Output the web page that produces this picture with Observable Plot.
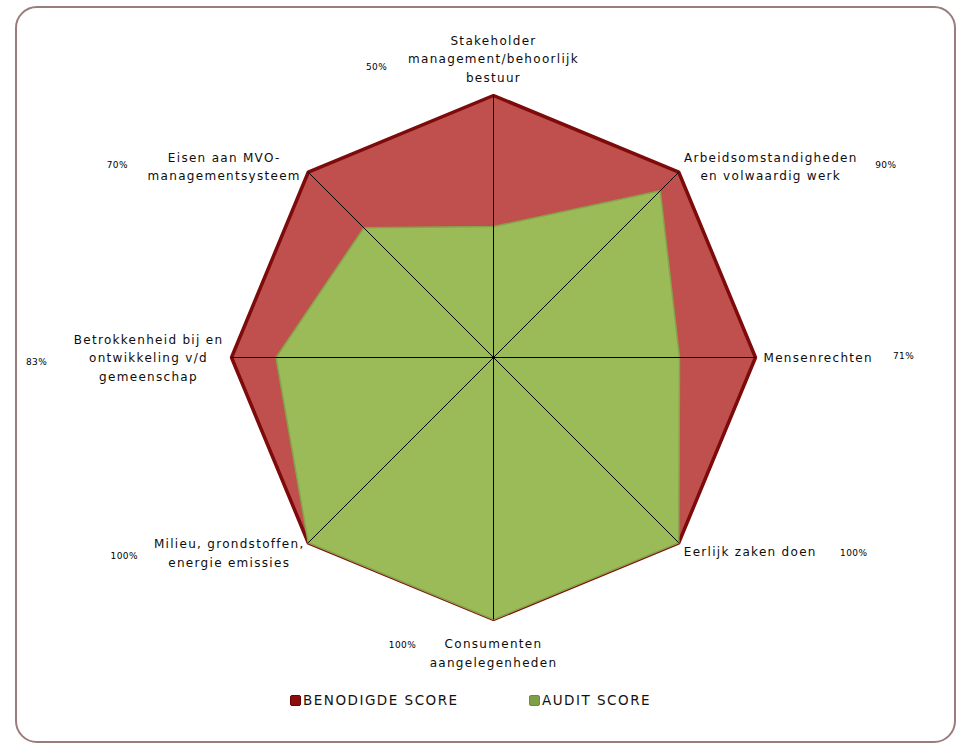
<!DOCTYPE html>
<html>
<head>
<meta charset="utf-8">
<script src="https://cdn.jsdelivr.net/npm/d3@7"></script>
<script src="https://cdn.jsdelivr.net/npm/@observablehq/plot@0.6"></script>
<style>
  body { margin: 0; background: #fff; }
  #wrap { position: relative; width: 961px; height: 745px; overflow: hidden; font-family: "DejaVu Sans", sans-serif; background: #fff; }
  #border { position: absolute; left: 15px; top: 6px; width: 941px; height: 737px; border: 2px solid #9a7c7c; border-radius: 22px; box-sizing: border-box; }
  #chart { position: absolute; left: 0; top: 0; }
  #legend { position: absolute; left: 0; top: 688px; width: 961px; height: 24px; }
  .item { position: absolute; top: 0; height: 24px; display: flex; align-items: center; font-size: 13.5px; letter-spacing: 1.5px; color: #111; }
  .sw { width: 11px; height: 11px; border-radius: 2px; margin-right: 2px; box-sizing: border-box; }
  svg text.cat { letter-spacing: 1.3px; }
  svg text.pct { letter-spacing: 0.4px; }
</style>
</head>
<body>
<div id="wrap">
  <div id="border"></div>
  <div id="chart"></div>
  <div id="legend"></div>
</div>
<script>
// ---- data ----
const categories = [
  "Stakeholder\nmanagement/behoorlijk\nbestuur",
  "Arbeidsomstandigheden\nen volwaardig werk",
  "Mensenrechten",
  "Eerlijk zaken doen",
  "Consumenten\naangelegenheden",
  "Milieu, grondstoffen,\nenergie emissies",
  "Betrokkenheid bij en\nontwikkeling v/d\ngemeenschap",
  "Eisen aan MVO-\nmanagementsysteem"
];
const requiredScore = [100, 100, 100, 100, 100, 100, 100, 100];
const auditScore = [50, 90, 71, 100, 100, 100, 83, 70];
const seriesNames = ["BENODIGDE SCORE", "AUDIT SCORE"];
const seriesColors = ["#C0504D", "#9BBB59"];

// ---- build polar points ----
const n = categories.length;
const toPoint = (v, i) => {
  const a = (i / n) * 2 * Math.PI;
  return { i, x: Math.sin(a) * v / 100, y: Math.cos(a) * v / 100 };
};
const redPts = requiredScore.map(toPoint);
const greenPts = auditScore.map(toPoint);

// label offsets (pixels) from the outer vertex of each axis
const catStyle = [
  { dx: 0, dy: -38, anchor: "middle" },
  { dx: 92, dy: -7, anchor: "middle" },
  { dx: 8, dy: -1, anchor: "start" },
  { dx: 5, dy: 7, anchor: "start" },
  { dx: 0, dy: 32, anchor: "middle" },
  { dx: -79, dy: 9, anchor: "middle" },
  { dx: -83, dy: -1, anchor: "middle" },
  { dx: -84, dy: -7, anchor: "middle" }
];
const pctStyle = [
  { dx: -117, dy: -28 },
  { dx: 207, dy: -7 },
  { dx: 148, dy: -1 },
  { dx: 175, dy: 10 },
  { dx: -91, dy: 26 },
  { dx: -184, dy: 13 },
  { dx: -195, dy: 5 },
  { dx: -191, dy: -7 }
];

const catMarks = redPts.map((p, i) => Plot.text([p], {
  x: "x", y: "y", text: () => categories[i],
  dx: catStyle[i].dx, dy: catStyle[i].dy,
  textAnchor: catStyle[i].anchor, lineAnchor: "middle", lineHeight: 1.55,
  fontSize: 12, fill: "#0d0d0d"
}));
const pctMarks = redPts.map((p, i) => Plot.text([p], {
  x: "x", y: "y", text: () => auditScore[i] + "%",
  dx: pctStyle[i].dx, dy: pctStyle[i].dy,
  textAnchor: "middle", lineAnchor: "middle",
  fontSize: 9, fill: "#000"
}));

const chart = Plot.plot({
  width: 961,
  height: 688,
  margin: 0,
  style: { fontFamily: "'DejaVu Sans', sans-serif", background: "transparent", overflow: "visible" },
  x: { domain: [-1, 1], range: [231, 755], axis: null },
  y: { domain: [-1, 1], range: [619, 95], axis: null },
  marks: [
    Plot.line(redPts, { x: "x", y: "y", curve: "linear-closed", fill: seriesColors[0], stroke: "#7E0B0B", strokeWidth: 3.5, strokeLinejoin: "miter" }),
    Plot.line(greenPts, { x: "x", y: "y", curve: "linear-closed", fill: seriesColors[1], stroke: "#86A34A", strokeWidth: 1.5, strokeLinejoin: "miter" }),
    Plot.link(redPts, { x1: 0, y1: 0, x2: "x", y2: "y", stroke: "#000", strokeWidth: 1 }),
    ...catMarks,
    ...pctMarks
  ]
});
document.getElementById("chart").appendChild(chart);
// spacing: percentage labels vs category labels
d3.select(chart).selectAll("text").each(function () {
  const t = this.textContent;
  this.classList.add(/%$/.test(t) ? "pct" : "cat");
});

// ---- legend ----
const legend = d3.select("#legend");
const lefts = [290, 529];
const swatchFill = ["#8B0E0E", "#7E9F45"];
const swatchStroke = ["#6a0000", "#6d8a3a"];
seriesNames.forEach((name, k) => {
  const it = legend.append("div").attr("class", "item").style("left", lefts[k] + "px");
  it.append("div").attr("class", "sw").style("background", swatchFill[k]).style("border", "1px solid " + swatchStroke[k]);
  it.append("span").text(name);
});
</script>
</body>
</html>
